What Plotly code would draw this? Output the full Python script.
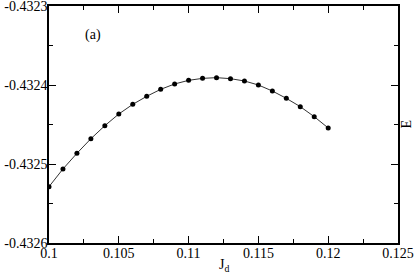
import plotly.graph_objects as go

jd = [0.100, 0.101, 0.102, 0.103, 0.104, 0.105, 0.106, 0.107, 0.108, 0.109, 0.110,
      0.111, 0.112, 0.113, 0.114, 0.115, 0.116, 0.117, 0.118, 0.119, 0.120]
energy = [-0.4325287, -0.4325063, -0.4324865, -0.4324680, -0.4324515, -0.4324367,
          -0.4324245, -0.4324143, -0.4324055, -0.4323987, -0.4323941, -0.4323916,
          -0.4323907, -0.4323920, -0.4323949, -0.4324000, -0.4324076, -0.4324169,
          -0.4324274, -0.4324401, -0.4324544]

x_ticks = [0.1, 0.105, 0.11, 0.115, 0.12, 0.125]
x_ticklabels = ["0.1", "0.105", "0.11", "0.115", "0.12", "0.125"]
y_ticks = [-0.4326, -0.4325, -0.4324, -0.4323]
y_ticklabels = ["-0.4326", "-0.4325", "-0.4324", "-0.4323"]

font = dict(family="Liberation Serif", size=14, color="black")

fig = go.Figure()
fig.add_trace(go.Scatter(
    x=jd, y=energy, mode="lines+markers",
    line=dict(color="#333333", width=1),
    marker=dict(color="black", size=5),
    showlegend=False,
))

axis_common = dict(
    showgrid=False, zeroline=False, showline=True, linecolor="black", linewidth=1.5,
    mirror="ticks", ticks="inside", ticklen=7, tickwidth=1, tickcolor="black",
    tickfont=font, automargin=False, ticklabeloverflow="allow",
)

fig.update_xaxes(
    range=[0.1, 0.125], tickmode="array", tickvals=x_ticks, ticktext=x_ticklabels,
    ticklabelstandoff=-4,
    minor=dict(ticks="inside", ticklen=4, tickwidth=1, tickcolor="black", dtick=0.0025, tick0=0.1),
    **axis_common,
)
fig.update_yaxes(
    range=[-0.4326, -0.4323], tickmode="array", tickvals=y_ticks, ticktext=y_ticklabels,
    ticklabelstandoff=-3,
    minor=dict(ticks="inside", ticklen=4, tickwidth=1, tickcolor="black", dtick=0.00005, tick0=-0.4326),
    **axis_common,
)

fig.add_annotation(text="(a)", x=0.125, y=0.878, xref="paper", yref="paper",
                   showarrow=False, font=font, xanchor="center", yanchor="middle")
fig.add_annotation(text="J<sub>d</sub>", x=0.5, y=-0.097, xref="paper", yref="paper",
                   showarrow=False, font=font, xanchor="center", yanchor="middle")
fig.add_annotation(text="E", x=1.0, y=0.5, xref="paper", yref="paper", xshift=8,
                   showarrow=False, font=font, textangle=-90, xanchor="center", yanchor="middle")

fig.update_layout(
    width=415, height=277,
    margin=dict(l=49, r=17, t=6, b=34, autoexpand=False),
    paper_bgcolor="white", plot_bgcolor="white",
    font=font,
)

fig.write_html("out.html", config={"displayModeBar": False},
               post_script="document.body.style.margin='0';document.body.style.overflow='hidden';")
